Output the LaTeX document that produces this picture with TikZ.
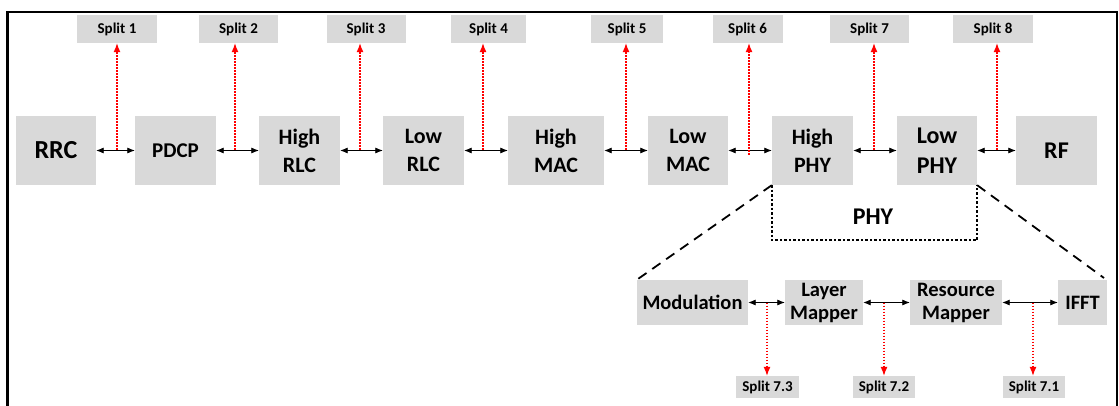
\documentclass[tikz,border=0pt]{standalone}
\usepackage{fontspec}
\setmainfont{Carlito}
\usetikzlibrary{arrows.meta}
\definecolor{boxgray}{RGB}{217,217,217}
\tikzset{
  blk/.style={fill=boxgray, inner sep=0pt, align=center,
    font=\bfseries\fontsize{22}{28}\selectfont,
    minimum width=81pt, minimum height=69pt},
  sub/.style={fill=boxgray, inner sep=0pt, align=center,
    font=\bfseries\fontsize{20.5}{23}\selectfont, minimum height=45pt},
  splitbox/.style={fill=boxgray, inner sep=0pt,
    font=\bfseries\fontsize{15}{17}\selectfont,
    minimum width=79pt, minimum height=28pt},
  subsplit/.style={fill=boxgray, inner sep=0pt,
    font=\bfseries\fontsize{15}{17}\selectfont,
    minimum width=63pt, minimum height=22pt},
  biarrow/.style={line width=0.8pt, {Latex[length=7.5pt,width=6pt]}-{Latex[length=7.5pt,width=6pt]}},
  splitarrow/.style={red, line width=1.1pt, dash pattern=on 1.5pt off 1.5pt,
    -{Latex[length=9pt,width=7pt]}},
  phyline/.style={line width=1.8pt, dash pattern=on 2.5pt off 2pt},
  zoomline/.style={line width=1.8pt, dash pattern=on 10pt off 7pt},
}
\begin{document}
\begin{tikzpicture}[x=1pt,y=-1pt]
\useasboundingbox (0,0) rectangle (1119,406);
\clip (0,0) rectangle (1119,406);
% outer frame (open at the bottom edge)
\draw[line width=2.5pt] (7.5,430) -- (7.5,12) -- (1117,12) -- (1117,430);

% protocol stack
\node[blk, minimum width=80pt, font=\bfseries\fontsize{26}{30}\selectfont] (rrc) at (56,150.5) {RRC};
\node[blk, font=\bfseries\fontsize{21}{26}\selectfont] (pdcp) at (175.5,150.5) {PDCP};
\node[blk] (hrlc) at (299.5,150.5) {High\\RLC};
\node[blk] (lrlc) at (423.5,150.5) {Low\\RLC};
\node[blk, minimum width=96pt] (hmac) at (556,150.5) {High\\MAC};
\node[blk, minimum width=80pt] (lmac) at (688,150.5) {Low\\MAC};
\node[blk] (hphy) at (812.5,150.5) {High\\PHY};
\node[blk, minimum width=80pt, font=\bfseries\fontsize{24}{30}\selectfont] (lphy) at (937,150.5) {Low\\PHY};
\node[blk, font=\bfseries\fontsize{24}{30}\selectfont] (rf) at (1056.5,150.5) {RF};

\draw[biarrow] (rrc.east) -- (pdcp.west);
\draw[biarrow] (pdcp.east) -- (hrlc.west);
\draw[biarrow] (hrlc.east) -- (lrlc.west);
\draw[biarrow] (lrlc.east) -- (hmac.west);
\draw[biarrow] (hmac.east) -- (lmac.west);
\draw[biarrow] (lmac.east) -- (hphy.west);
\draw[biarrow] (hphy.east) -- (lphy.west);
\draw[biarrow] (lphy.east) -- (rf.west);

% split options
\node[splitbox, minimum width=80pt] (s1) at (117,29) {Split 1};
\node[splitbox] (s2) at (238.5,29) {Split 2};
\node[splitbox] (s3) at (366,29) {Split 3};
\node[splitbox, minimum width=75pt] (s4) at (488.5,29) {Split 4};
\node[splitbox, minimum width=72pt] (s5) at (627,29) {Split 5};
\node[splitbox, minimum width=70pt] (s6) at (747.5,29) {Split 6};
\node[splitbox] (s7) at (869.5,29) {Split 7};
\node[splitbox, minimum width=80pt] (s8) at (993,29) {Split 8};

\coordinate (p1) at (117,150);
\coordinate (p2) at (235,150);
\coordinate (p3) at (360,150);
\coordinate (p4) at (483,150);
\coordinate (p5) at (626,150);
\coordinate (p6) at (749,155);
\coordinate (p7) at (874,150);
\coordinate (p8) at (997,150);
\foreach \i in {1,...,8}{
  \draw[splitarrow] (p\i) -- (p\i |- s\i.south);
}

% PHY grouping and zoomed-in detail
\draw[phyline] (hphy.south west) -- ++(0,55) -| (lphy.south east);
\node[font=\bfseries\fontsize{24}{26}\selectfont] (phy) at (873,217) {PHY};

\node[sub, minimum width=111pt] (mod) at (692.5,302.5) {Modulation};
\node[sub, minimum width=78pt] (lmap) at (824,302.5) {Layer\\Mapper};
\node[sub, minimum width=92pt] (rmap) at (956,302.5) {Resource\\Mapper};
\node[sub, minimum width=49pt] (ifft) at (1082.5,302.5) {IFFT};

\coordinate (zr) at (1104,278);
\draw[zoomline] (hphy.south west) -- (mod.north west);
\draw[zoomline] (lphy.south east) -- (zr);

\draw[biarrow] (mod.east) -- (lmap.west);
\draw[biarrow] (lmap.east) -- (rmap.west);
\draw[biarrow] (rmap.east) -- (ifft.west);

\node[subsplit] (s73) at (767.5,387) {Split 7.3};
\node[subsplit, minimum width=62pt] (s72) at (884,387) {Split 7.2};
\node[subsplit, minimum width=62pt] (s71) at (1034,387) {Split 7.1};

\coordinate (q3) at (767,302.5);
\coordinate (q2) at (884,302.5);
\coordinate (q1) at (1033,302.5);
\draw[splitarrow] (q3) -- (q3 |- s73.north);
\draw[splitarrow] (q2) -- (q2 |- s72.north);
\draw[splitarrow] (q1) -- (q1 |- s71.north);
\end{tikzpicture}
\end{document}
